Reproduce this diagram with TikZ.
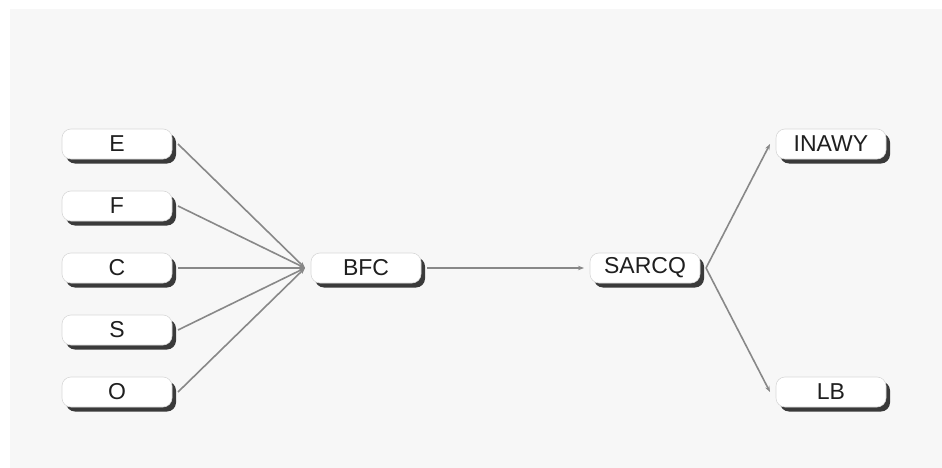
\documentclass[tikz,border=0pt]{standalone}
\usepackage{fontspec}
\setmainfont{Liberation Sans}
\usetikzlibrary{shadows,arrows.meta}
\definecolor{bgpanel}{HTML}{F7F7F7}
\definecolor{edgegray}{HTML}{888888}
\definecolor{shadowgray}{HTML}{3A3A3A}
\definecolor{boxline}{HTML}{D8D8D8}
\tikzset{
  pill/.style={draw=boxline, line width=0.6pt, fill=white, rounded corners=9pt,
    minimum width=110pt, minimum height=30pt, inner sep=0pt, outer sep=6pt,
    font=\fontsize{23}{26}\selectfont, text=black!88,
    drop shadow={shadow xshift=4pt, shadow yshift=-4.5pt, fill=shadowgray, opacity=1}},
  link/.style={draw=edgegray, line width=1.6pt, -{Stealth[length=6pt,width=4.5pt]}}
}
\begin{document}
\begin{tikzpicture}[x=1pt,y=-1pt]
  \useasboundingbox (0,0) rectangle (942,468);
  \fill[white] (0,0) rectangle (942,468);
  \fill[bgpanel] (10,9) rectangle (942,468);

  % input nodes
  \node[pill] (e) at (117,144) {E};
  \node[pill] (f) at (117,206) {F};
  \node[pill] (c) at (117,268) {C};
  \node[pill] (s) at (117,330) {S};
  \node[pill] (o) at (117,392) {O};

  % middle chain
  \node[pill] (bfc) at (366,268) {BFC};
  \node[pill] (sarcq) at (645,268) {SARCQ};

  % outputs
  \node[pill] (inawy) at (831,144) {INAWY};
  \node[pill] (lb) at (831,392) {LB};

  \foreach \src in {e,f,c,s,o}
    \draw[link] (\src.east) -- (bfc.west);
  \draw[link] (bfc.east) -- (sarcq.west);
  \draw[link] (sarcq.east) -- (inawy.west);
  \draw[link] (sarcq.east) -- (lb.west);
\end{tikzpicture}
\end{document}
